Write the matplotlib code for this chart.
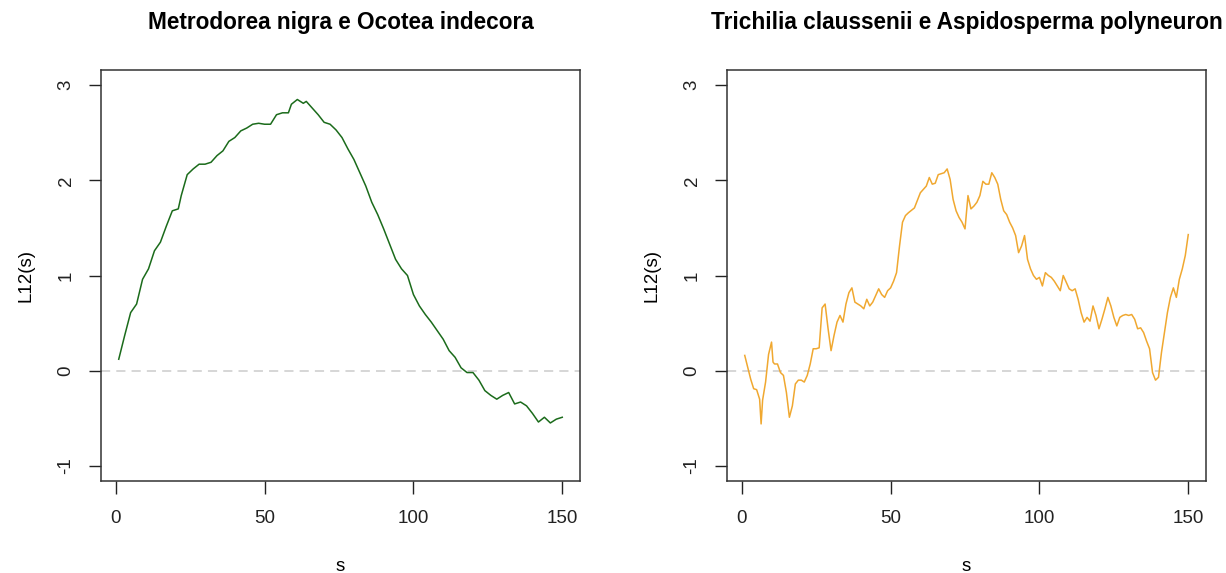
import numpy as np
import matplotlib
matplotlib.use("Agg")
import matplotlib.pyplot as plt

plt.rcParams['font.family'] = ['Liberation Sans', 'DejaVu Sans']

# L12(s)
s_left = [1, 3, 5, 7, 9, 11, 13, 15, 17, 19, 21, 22, 24, 26, 28, 30, 32, 34, 36, 38,
          40, 42, 44, 46, 48, 50, 52, 54, 56, 58, 59, 61, 63, 64, 66, 68, 70, 72, 74, 76,
          78, 80, 82, 84, 86, 88, 90, 92, 94, 96, 98, 100, 102, 104, 106, 108, 110, 112, 114, 116,
          118, 120, 122, 124, 126, 128, 130, 132, 134, 136, 138, 140, 142, 144, 146, 148, 150]
l12_left = [0.12, 0.37, 0.61, 0.70, 0.96, 1.07, 1.26, 1.35, 1.52, 1.68, 1.70, 1.84, 2.06, 2.12, 2.17, 2.17, 2.19, 2.26, 2.31, 2.41,
            2.45, 2.52, 2.55, 2.59, 2.60, 2.59, 2.59, 2.69, 2.71, 2.71, 2.80, 2.85, 2.81, 2.83, 2.76, 2.69, 2.61, 2.59, 2.53, 2.45,
            2.33, 2.22, 2.08, 1.94, 1.77, 1.64, 1.49, 1.33, 1.17, 1.07, 1.00, 0.80, 0.68, 0.59, 0.51, 0.42, 0.33, 0.21, 0.14, 0.03,
            -0.02, -0.02, -0.10, -0.21, -0.26, -0.30, -0.26, -0.23, -0.35, -0.33, -0.37, -0.45, -0.54, -0.49, -0.55, -0.51, -0.49]

s_right = [1, 3, 4, 5, 6, 6.5, 7, 8, 9, 10, 10.5, 11, 12, 13, 14, 15, 16, 17, 18, 19,
           20, 21, 22, 23, 24, 25, 26, 27, 28, 29, 30, 31, 32, 33, 34, 35, 36, 37, 38, 39,
           40, 41, 42, 43, 44, 45, 46, 47, 48, 49, 50, 51, 52, 53, 54, 55, 56, 58, 60, 62,
           63, 64, 65, 66, 68, 69, 70, 71, 72, 73, 74, 75, 76, 77, 78, 79, 80, 81, 82, 83,
           84, 85, 86, 87, 88, 89, 90, 91, 92, 93, 94, 95, 96, 97, 98, 99, 100, 101, 102, 103,
           104, 105, 106, 107, 108, 109, 110, 111, 112, 113, 114, 115, 116, 117, 118, 119, 120, 121, 122, 123,
           124, 125, 126, 127, 128, 129, 130, 131, 132, 133, 134, 135, 136, 137, 138, 139, 140, 141, 142, 143,
           144, 145, 146, 147, 148, 149, 150]
l12_right = [0.16, -0.09, -0.19, -0.20, -0.30, -0.56, -0.31, -0.12, 0.17, 0.30, 0.09, 0.07, 0.07, -0.02, -0.05, -0.23, -0.49, -0.37, -0.14, -0.10,
             -0.10, -0.12, -0.05, 0.07, 0.23, 0.23, 0.24, 0.66, 0.70, 0.44, 0.21, 0.37, 0.51, 0.58, 0.51, 0.70, 0.82, 0.87, 0.72, 0.70,
             0.68, 0.65, 0.75, 0.68, 0.72, 0.79, 0.86, 0.80, 0.77, 0.84, 0.87, 0.94, 1.03, 1.31, 1.56, 1.63, 1.66, 1.71, 1.87, 1.94,
             2.03, 1.96, 1.97, 2.06, 2.08, 2.12, 2.01, 1.80, 1.68, 1.61, 1.56, 1.49, 1.84, 1.70, 1.73, 1.77, 1.84, 1.99, 1.96, 1.96,
             2.08, 2.03, 1.96, 1.80, 1.68, 1.64, 1.56, 1.50, 1.42, 1.24, 1.31, 1.42, 1.17, 1.07, 1.00, 0.96, 0.98, 0.89, 1.03, 1.00,
             0.98, 0.94, 0.89, 0.84, 1.00, 0.93, 0.86, 0.84, 0.86, 0.75, 0.61, 0.51, 0.56, 0.52, 0.68, 0.58, 0.44, 0.54, 0.65, 0.77,
             0.68, 0.56, 0.47, 0.56, 0.58, 0.59, 0.58, 0.59, 0.54, 0.44, 0.45, 0.40, 0.31, 0.23, -0.02, -0.10, -0.07, 0.19, 0.40, 0.61,
             0.77, 0.87, 0.77, 0.96, 1.07, 1.21, 1.43]

titles = ["Metrodorea nigra e Ocotea indecora", "Trichilia claussenii e Aspidosperma polyneuron"]
colors = ["#1b6b1b", "#f0a830"]

fig = plt.figure(figsize=(12.26, 5.73), dpi=100)
boxes = [[101/1226, 1-481/573, 479/1226, 411/573],
         [727/1226, 1-481/573, 479/1226, 411/573]]
data = [(s_left, l12_left), (s_right, l12_right)]

for i in range(2):
    ax = fig.add_axes(boxes[i])
    xs, ys = data[i]
    ax.axhline(0, color="#cccccc", lw=1.1, ls=(0, (6, 4)), zorder=1)
    ax.plot(xs, ys, color=colors[i], lw=1.1, zorder=2)
    ax.set_xlim(1 - 0.04*149, 150 + 0.04*149)
    ax.set_ylim(-1.16, 3.16)
    ax.set_xticks([0, 50, 100, 150])
    ax.set_yticks([-1, 0, 1, 2, 3])
    ax.set_yticklabels(["-1", "0", "1", "2", "3"], rotation=90, va="center")
    ax.tick_params(direction="out", length=9, width=1, pad=12, labelsize=13.5, colors="#222222")
    ax.tick_params(axis="y", pad=10)
    for sp in ax.spines.values():
        sp.set_linewidth(1.1)
        sp.set_color("#333333")
    ax.set_xlabel("s", fontsize=13.5, labelpad=22)
    ax.set_ylabel("L12(s)", fontsize=13.5, labelpad=17)
    x0, y0, w, h = boxes[i]
    fig.text(x0 + w/2, 1 - 23/573, titles[i], ha="center", va="center",
             fontsize=16.3, fontweight="bold")

fig.savefig("out.png", dpi=100)
